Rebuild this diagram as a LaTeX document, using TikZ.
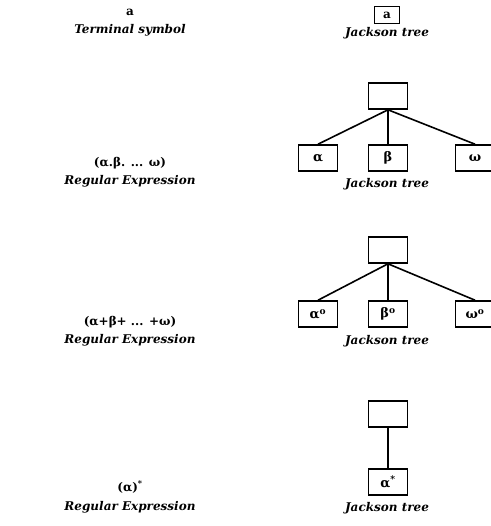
\documentclass[tikz,border=0pt]{standalone}
\usepackage{fontspec}
\setmainfont{DejaVu Serif}
\begin{document}
\begin{tikzpicture}[x=1pt,y=-1pt,
  caption/.style={font=\fontsize{12}{14}\selectfont\bfseries\itshape, inner sep=0pt},
  expr/.style={font=\fontsize{12}{14}\selectfont\bfseries, inner sep=0pt},
  jbox/.style={draw, line width=1.6pt, minimum width=39pt, minimum height=26pt, inner sep=0pt,
               font=\fontsize{13}{15}\selectfont\bfseries},
  smallbox/.style={jbox, minimum width=25pt, minimum height=17pt, font=\fontsize{12}{14}\selectfont\bfseries},
  branch/.style={line width=1.6pt}]
\useasboundingbox (0,0) rectangle (490,526);

% terminal symbol
\node[expr] (ta) at (130,12) {a};
\node[caption] (tcap) at (130,30) {Terminal symbol};
\node[smallbox] (jta) at (387,15) {a};
\node[caption] (jtcap) at (387,33) {Jackson tree};

% sequence
\node[expr] (sexp) at (130,163) {(α.β. ... ω)};
\node[caption] (scap) at (130,181) {Regular Expression};
\node[jbox] (sroot) at (388,96) {};
\node[jbox] (sa) at (318,158) {α};
\node[jbox] (sb) at (388,158) {β};
\node[jbox] (sw) at (475,158) {ω};
\node[caption] (sjcap) at (387,184) {Jackson tree};
\draw[branch] (sroot.south) -- (sa.north);
\draw[branch] (sroot.south) -- (sb.north);
\draw[branch] (sroot.south) -- (sw.north);

% selection
\node[expr] (aexp) at (130,322) {(α+β+ ... +ω)};
\node[caption] (acap) at (130,340) {Regular Expression};
\node[jbox] (aroot) at (388,250) {};
\node[jbox] (aa) at (318,314) {α\textsuperscript{o}};
\node[jbox] (ab) at (388,314) {β\textsuperscript{o}};
\node[jbox] (aw) at (475,314) {ω\textsuperscript{o}};
\node[caption] (ajcap) at (387,341) {Jackson tree};
\draw[branch] (aroot.south) -- (aa.north);
\draw[branch] (aroot.south) -- (ab.north);
\draw[branch] (aroot.south) -- (aw.north);

% iteration
\node[expr] (iexp) at (130,487) {(α)\textsuperscript{*}};
\node[caption] (icap) at (130,507) {Regular Expression};
\node[jbox] (iroot) at (388,414) {};
\node[jbox] (ia) at (388,482) {α\textsuperscript{*}};
\node[caption] (ijcap) at (387,508) {Jackson tree};
\draw[branch] (iroot.south) -- (ia.north);
\end{tikzpicture}
\end{document}
